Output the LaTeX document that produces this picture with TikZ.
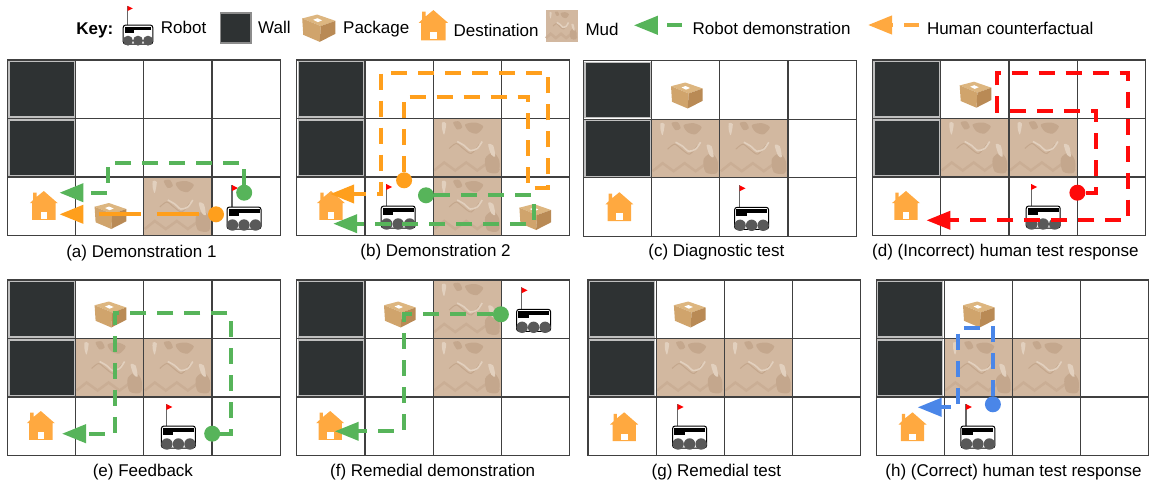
\documentclass[tikz,border=0pt]{standalone}
\usepackage{fontspec}
\setmainfont{Liberation Sans}
\usepackage{xcolor}
\usetikzlibrary{arrows.meta}
\definecolor{robotCol}{HTML}{57B45A}
\definecolor{humanCol}{HTML}{FF9F1C}
\definecolor{wrongCol}{HTML}{FF0A0A}
\definecolor{rightCol}{HTML}{4A86E8}
\definecolor{houseCol}{HTML}{FFA940}
\definecolor{wallCol}{HTML}{2E3233}
\definecolor{mudCol}{HTML}{D2B8A0}
\definecolor{mudDark}{HTML}{C4A78D}
\definecolor{mudLight}{HTML}{E2D0BE}
\definecolor{mudWave}{HTML}{CAAE95}
\definecolor{boxTop}{HTML}{DDB680}
\definecolor{boxLeft}{HTML}{D0A46C}
\definecolor{boxRight}{HTML}{B98A55}
\def\cellw{68.2}
\def\cellh{58.5}

\tikzset{
  gridline/.style={draw=black!75, line width=1.2pt},
  captext/.style={font=\fontsize{17}{20}\selectfont, inner sep=0pt},
  dot/.style={circle, fill=#1, minimum size=16pt, inner sep=0pt},
  route/.style={draw=#1, line width=4pt, dash pattern=on 16pt off 11pt,
    -{Triangle[length=24pt,width=18pt]}, fill=none},
  robotpic/.pic={
    \begin{scope}[x=1pt,y=-1pt]
    \draw [black!60, line width=1.2pt](-12,0) -- (-12,-22);
    \fill [red](-12,-22) -- (-6,-19) -- (-12,-16) -- cycle;
    \filldraw [draw=black, fill=white, line width=1pt, rounded corners=2.5pt](-17,0) rectangle (17,22);
    \fill [black](-15.5,2) rectangle (15.5,5.5);
    \fill [black](-15.5,5.5) rectangle (-5,9);
    \foreach \wx in {-11.5,0,11.5}{
      \fill [black!65](\wx,18) circle (5.7);
    }
    \end{scope}
  },
  packagepic/.pic={
    \begin{scope}[x=1pt,y=-1pt]
    \fill [boxTop](-16,-9.3) -- (-1.7,-13) -- (15.7,-7) -- (1.7,-2) -- cycle;
    \fill [boxLeft](-16,-9.3) -- (1.7,-2) -- (0.7,13) -- (-15,6.3) -- cycle;
    \fill [boxRight](1.7,-2) -- (15.7,-7) -- (15.7,5.3) -- (0.7,13) -- cycle;
    \fill [white](-5.5,-8) -- (-1.5,-9.5) -- (3,-7.5) -- (-1,-5.8) -- cycle;
    \end{scope}
  },
  housepic/.pic={
    \begin{scope}[x=1pt,y=-1pt]
    \fill [houseCol](-14,-2.3) -- (-10.7,-5.5) -- (-10.7,-13) -- (-7.3,-13) -- (-7.3,-8.5) -- (0,-14.5) -- (14,-2.3) -- (11.7,-2.3) -- (11.7,14.3) -- (-11.7,14.3) -- (-11.7,-2.3) -- cycle;
    \fill [white](-3.3,6.7) rectangle (3.3,13.3);
    \end{scope}
  },
  mudcell/.pic={
    \begin{scope}[x=1pt,y=-1pt]
    \fill [mudCol](0,0) rectangle (\cellw,\cellh);
    \draw [mudWave, line width=2.5pt] (1,52) -- (11,44) -- (22,52) -- (33,44) -- (44,52) -- (55,44) -- (66,52);
    \fill [mudDark] plot[smooth cycle] coordinates {(32,6) (42,4) (50,8) (44,15) (36,13)};
    \fill [mudDark] plot[smooth cycle] coordinates {(20,4) (26,3) (29,9) (24,11)};
    \fill [mudDark] plot[smooth cycle] coordinates {(52,40) (60,34) (66,42) (65,54) (54,53)};
    \fill [mudLight] plot[smooth cycle] coordinates {(9,4) (13,5) (11,16) (9,11)};
    \fill [mudLight] plot[smooth cycle] coordinates {(55,26) (60,27) (62,38) (58,36)};
    \draw [mudDark, line width=1pt] plot[smooth] coordinates {(16,30) (23,25) (30,30) (38,35) (46,26)};
    \draw [mudLight, line width=1.6pt] plot[smooth] coordinates {(24,23) (31,27) (37,32) (44,30) (49,23)};
    \end{scope}
  }
}

% grid of one panel, the argument lists its mud cells
\newcommand{\gridcells}[1]{
  \foreach \cx/\cy in {#1}{
    \pic at ({\cx*\cellw},{\cy*\cellh}) {mudcell};
  }
  \foreach \cy in {0,1}{
    \filldraw [draw=black!25, fill=wallCol, line width=1.2pt]({1.5},{\cy*\cellh+1.5}) rectangle ({\cellw-1.5},{(\cy+1)*\cellh-1.5});
  }
  \draw [gridline](0,0) rectangle ({4*\cellw},{3*\cellh});
  \foreach \cx in {1,2,3}{
    \draw [gridline]({\cx*\cellw},0) -- ({\cx*\cellw},{3*\cellh});
  }
  \foreach \cy in {1,2}{
    \draw [gridline](0,{\cy*\cellh}) -- ({4*\cellw},{\cy*\cellh});
  }
}

\begin{document}
\begin{tikzpicture}[x=1pt,y=-1pt]
%--------------------------------------------------
\useasboundingbox (0,0) rectangle (1149,485);

% the key along the top
\node [captext, font=\fontsize{17}{20}\selectfont\bfseries] (keyTitle) at (94.8,30) {Key:};
\pic [scale=0.87] at (138,25) {robotpic};
\node [captext, anchor=west] (keyRobot) at (160.7,27) {Robot};
\filldraw [draw=black!45, fill=wallCol, line width=1.5pt](220.5,13) rectangle (251,43);
\node [captext, anchor=west] (keyWall) at (258,27) {Wall};
\pic [scale=1.05] at (319,28.2) {packagepic};
\node [captext, anchor=west] (keyPackage) at (343,29.3) {Package};
\pic [scale=1.05] at (433.4,25.3) {housepic};
\node [captext, anchor=west] (keyDestination) at (453.4,30) {Destination};
\pic [xscale=0.47, yscale=0.54] at (545.5,10) {mudcell};
\node [captext, anchor=west] (keyMud) at (585.3,29.7) {Mud};
\coordinate (keyRobotFrom) at (682.2,25.3);
\coordinate (keyRobotTo) at (633.8,25.3);
\draw [route=robotCol, dash pattern=on 15.4pt off 9pt](keyRobotFrom) -- (keyRobotTo);
\node [captext, anchor=west] (keyDemo) at (692.5,28.3) {Robot demonstration};
\coordinate (keyHumanFrom) at (919,25);
\coordinate (keyHumanTo) at (868,25);
\draw [route=houseCol, dash pattern=on 15.4pt off 11pt](keyHumanFrom) -- (keyHumanTo);
\node [captext, anchor=west] (keyHuman) at (926.8,28) {Human counterfactual};


% (a)
\begin{scope}[shift={(7.4,60)}]
\gridcells{2/2}
\pic at (36.4,145.5) {housepic};
\pic at (103.2,156) {packagepic};
\pic at (236.6,147) {robotpic};
\node [dot=humanCol] (aHuman) at (208.6,154.3) {};
\node [dot=robotCol] (aRobot) at (236.8,132.7) {};
\coordinate (aHumanEnd) at (52,154.3);
\coordinate (aRobotEnd) at (52,132.7);
\draw [route=humanCol, dash pattern=on 42pt off 16pt, dash phase=49pt](aHuman) -- (aHumanEnd);
\draw [route=robotCol](aRobot) -- ++(0,-30) -- ++(-135.8,0) -- ++(0,30) -- (aRobotEnd);
\end{scope}
\node [captext] (capA) at (141.4,253) {(a) Demonstration 1};

% (b)
\begin{scope}[shift={(296.8,60)}]
\gridcells{2/1,2/2}
\pic at (34.2,145.5) {housepic};
\pic at (238.6,157) {packagepic};
\pic at (101.4,146) {robotpic};
\node [dot=humanCol] (bHuman) at (107.3,120.3) {};
\node [dot=robotCol] (bRobot) at (129.2,135.3) {};
\coordinate (bHumanEnd) at (33.4,134);
\coordinate (bRobotEnd) at (36.4,163.7);
\draw [route=humanCol](bHuman) -- ++(0,-83.6) -- ++(123.9,0) -- ++(0,91) -- ++(20.4,0) -- ++(0,-115) -- ++(-167.3,0) -- ++(0,121.3) -- (bHumanEnd);
\draw [route=robotCol](bRobot) -- ++(107.6,0) -- ++(0,28.4) -- (bRobotEnd);
\end{scope}
\node [captext] (capB) at (435.6,252) {(b) Demonstration 2};

% (c)
\begin{scope}[shift={(583.4,60.7)}]
\gridcells{1/1,2/1}
\pic at (36,146) {housepic};
\pic at (103.6,34.8) {packagepic};
\pic at (168.2,146.6) {robotpic};
\end{scope}
\node [captext] (capC) at (716.4,252) {(c) Diagnostic test};

% (d)
\begin{scope}[shift={(872.5,60)}]
\gridcells{1/1,2/1}
\pic at (33.5,145.5) {housepic};
\pic at (103.2,34.7) {packagepic};
\pic at (170.7,146) {robotpic};
\node [dot=wrongCol] (dHuman) at (204.9,132.7) {};
\coordinate (dHumanEnd) at (53.9,160.3);
\draw [route=wrongCol](dHuman) -- ++(18.4,0) -- ++(0,-82) -- ++(-98.5,0) -- ++(0,-38) -- ++(130.4,0) -- ++(0,147.6) -- (dHumanEnd);
\end{scope}
\node [captext] (capD) at (1005.4,252) {(d) (Incorrect) human test response};


% (e)
\begin{scope}[shift={(7.4,280)}]
\gridcells{1/1,2/1}
\pic at (33.4,145.5) {housepic};
\pic at (103.2,34.5) {packagepic};
\pic at (171,146) {robotpic};
\node [dot=robotCol] (eRobot) at (204.8,153.7) {};
\coordinate (eRobotEnd) at (54.6,153.7);
\draw [route=robotCol](eRobot) -- ++(19,0) -- ++(0,-120.4) -- ++(-116.2,0) -- ++(0,120.4) -- (eRobotEnd);
\end{scope}
\node [captext] (capE) at (142.9,471.7) {(e) Feedback};

% (f)
\begin{scope}[shift={(296.8,280)}]
\gridcells{2/0,2/1}
\pic at (33.4,145.5) {housepic};
\pic at (103.2,34.5) {packagepic};
\pic at (236.8,29.3) {robotpic};
\node [dot=robotCol] (fRobot) at (204.1,34.3) {};
\coordinate (fRobotEnd) at (37.9,151.3);
\draw [route=robotCol](fRobot) -- ++(-97.2,0) -- ++(0,117) -- (fRobotEnd);
\end{scope}
\node [captext] (capF) at (432.7,471.7) {(f) Remedial demonstration};

% (g)
\begin{scope}[shift={(587.9,280)}]
\gridcells{1/1,2/1}
\pic at (36.3,146.8) {housepic};
\pic at (102,34.5) {packagepic};
\pic at (101.7,146) {robotpic};
\end{scope}
\node [captext] (capG) at (716.4,471.7) {(g) Remedial test};

% (h)
\begin{scope}[shift={(876.1,280)}]
\gridcells{1/1,2/1}
\pic at (36.4,146.8) {housepic};
\pic at (102.9,34.5) {packagepic};
\pic at (101.8,146) {robotpic};
\node [dot=rightCol] (hHuman) at (116.8,124.3) {};
\coordinate (hHumanEnd) at (41.5,127.3);
\draw [route=rightCol](hHuman) -- ++(0,-76) -- ++(-34.9,0) -- ++(0,79) -- (hHumanEnd);
\end{scope}
\node [captext] (capH) at (1013.5,471.7) {(h) (Correct) human test response};

%--------------------------------------------------
\end{tikzpicture}
\end{document}
